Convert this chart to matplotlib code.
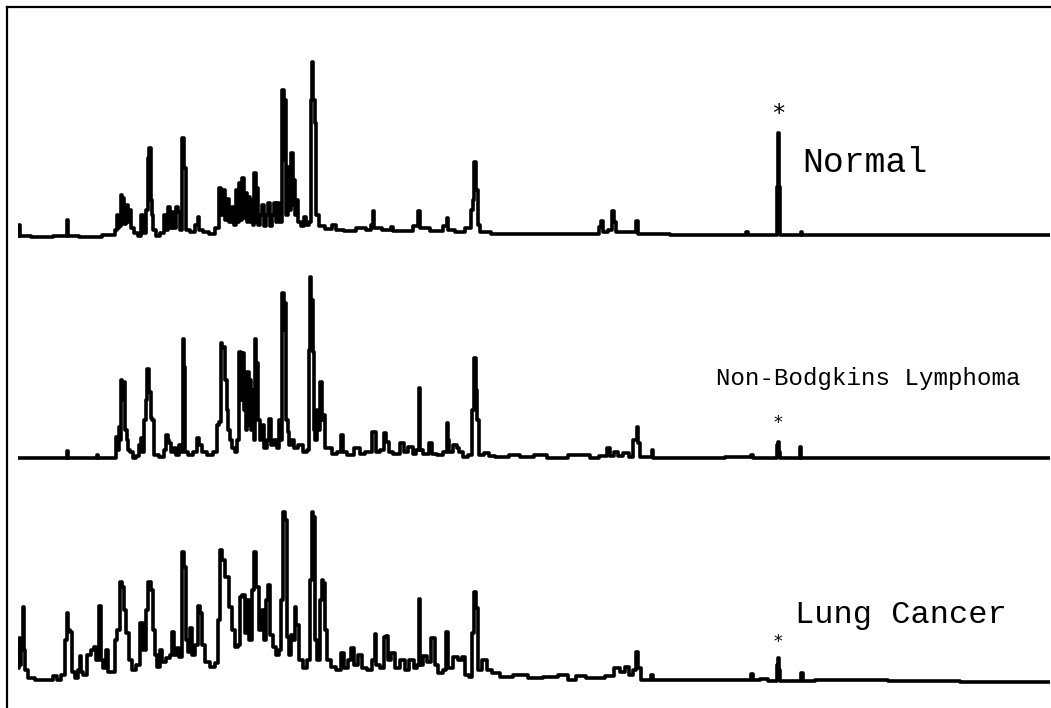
import matplotlib
matplotlib.use("Agg")
import matplotlib.pyplot as plt

# traces: (scan, intensity) vertices of each chromatogram
normal_trace = [
    (0, -1), (1, 10), (3, -1), (22, -2), (48, -1), (49, 15), (50, -1), (72, -2), (96, 0),
    (98, 5), (99, 20), (100, 7), (102, 9), (103, 40), (104, 13), (105, 37), (106, 11),
    (109, 30), (110, 13), (112, 25), (114, 7), (118, 2), (122, -1), (124, 20), (126, 2),
    (129, 25), (130, 77), (132, 87), (133, 35), (134, 20), (136, 5), (140, -1), (144, 2),
    (147, 20), (149, 5), (151, 28), (153, 7), (154, 23), (156, 7), (159, 28), (161, 23),
    (163, 5), (165, 97), (167, 67), (169, 5), (174, 3), (179, 10), (180, 18), (182, 5),
    (187, 3), (194, 1), (199, 7), (202, 47), (204, 20), (206, 45), (208, 15), (210, 36),
    (212, 13), (215, 28), (217, 10), (219, 45), (220, 13), (222, 52), (223, 15), (225, 57),
    (226, 17), (228, 42), (229, 13), (231, 38), (232, 13), (234, 35), (235, 10), (237, 62),
    (238, 13), (239, 47), (241, 10), (243, 20), (245, 30), (247, 9), (249, 20), (251, 32),
    (253, 9), (255, 20), (257, 32), (258, 13), (260, 32), (262, 13), (265, 145), (266, 75),
    (267, 135), (269, 20), (271, 68), (272, 25), (274, 82), (275, 30), (276, 55), (278, 20),
    (279, 35), (281, 13), (285, 9), (287, 18), (289, 10), (292, 13), (293, 135), (294, 173),
    (296, 135), (297, 112), (299, 20), (302, 9), (312, 6), (315, 10), (320, 5), (332, 4),
    (344, 7), (352, 5), (354, 10), (355, 24), (356, 7), (372, 5), (374, 8), (376, 4),
    (392, 4), (398, 9), (401, 24), (402, 7), (422, 4), (428, 9), (429, 17), (431, 5),
    (442, 3), (452, 7), (454, 25), (455, 35), (457, 73), (459, 45), (460, 10), (464, 3),
    (482, 1), (532, 1), (580, 1), (582, 8), (584, 14), (586, 3), (593, 5), (595, 24),
    (597, 13), (599, 3), (617, 3), (619, 14), (621, 1), (682, 0), (727, 0), (729, 3),
    (731, 0), (758, 0), (759, 48), (760, 102), (761, 48), (763, 0), (782, 0), (783, 3),
    (784, 0), (1032, 0),
]

nhl_trace = [
    (0, 0), (48, 0), (49, 7), (50, 0), (78, 0), (79, 3), (80, 0), (97, 0), (99, 21),
    (100, 8), (101, 31), (102, 18), (103, 78), (105, 58), (106, 76), (108, 28), (109, 18),
    (111, 8), (113, 6), (116, 0), (120, 2), (122, 13), (123, 20), (125, 6), (127, 38),
    (128, 58), (130, 89), (132, 66), (133, 40), (135, 38), (137, 3), (144, 1), (147, 8),
    (149, 23), (150, 18), (152, 15), (154, 6), (157, 10), (159, 3), (162, 13), (164, 6),
    (165, 119), (166, 91), (168, 6), (172, 3), (177, 6), (180, 20), (182, 13), (185, 6),
    (192, 3), (198, 6), (200, 33), (202, 36), (203, 115), (205, 110), (206, 111), (208, 78),
    (209, 48), (211, 28), (213, 18), (215, 10), (218, 6), (220, 18), (222, 106), (223, 58),
    (225, 105), (226, 48), (227, 68), (228, 28), (230, 86), (231, 33), (232, 78), (233, 28),
    (235, 68), (236, 18), (237, 119), (238, 58), (239, 95), (241, 38), (242, 18), (244, 26),
    (245, 33), (247, 10), (250, 18), (252, 39), (254, 13), (258, 18), (260, 10), (262, 38),
    (263, 18), (265, 165), (266, 128), (267, 155), (269, 38), (270, 26), (272, 13), (274, 18),
    (277, 10), (282, 13), (287, 6), (290, 8), (291, 108), (292, 181), (294, 158), (295, 106),
    (296, 28), (298, 18), (300, 48), (301, 28), (303, 76), (304, 38), (306, 43), (308, 10),
    (312, 10), (316, 4), (322, 6), (324, 23), (326, 6), (332, 3), (340, 10), (344, 4),
    (350, 6), (357, 26), (359, 6), (364, 8), (367, 25), (369, 16), (372, 6), (378, 4),
    (385, 15), (387, 6), (393, 11), (396, 4), (400, 8), (401, 70), (402, 8), (408, 4),
    (413, 15), (415, 4), (422, 3), (428, 6), (429, 35), (430, 18), (432, 6), (438, 13),
    (440, 10), (442, 6), (447, 1), (452, 3), (455, 48), (457, 100), (458, 68), (459, 38),
    (462, 3), (469, 5), (472, 2), (482, 1), (500, 3), (504, 1), (527, 3), (530, 0),
    (570, 3), (574, 0), (587, 2), (591, 10), (593, 2), (599, 6), (601, 2), (609, 5),
    (612, 1), (618, 18), (619, 31), (621, 15), (623, 1), (633, 1), (634, 8), (636, 0),
    (682, 0), (732, 1), (734, 3), (736, 0), (758, 0), (759, 13), (760, 16), (761, 6),
    (763, 0), (781, 0), (782, 11), (784, 0), (1032, 0),
]

lung_trace = [
    (0, 14), (1, 44), (2, 17), (4, 42), (5, 75), (6, 32), (8, 12), (12, 4), (22, 2),
    (32, 2), (37, 6), (40, 2), (45, 7), (48, 42), (49, 69), (51, 52), (53, 50), (55, 10),
    (58, 4), (61, 12), (62, 26), (63, 10), (67, 7), (71, 27), (74, 32), (77, 35), (79, 22),
    (82, 76), (83, 22), (86, 14), (89, 32), (90, 10), (95, 10), (98, 42), (100, 52),
    (103, 100), (105, 95), (107, 72), (109, 49), (112, 22), (115, 12), (120, 17), (124, 59),
    (126, 32), (129, 72), (131, 100), (134, 92), (136, 52), (138, 27), (140, 15), (143, 32),
    (145, 20), (150, 24), (153, 27), (155, 50), (157, 27), (160, 34), (162, 25), (165, 130),
    (167, 115), (169, 42), (171, 30), (173, 54), (175, 27), (179, 37), (181, 76), (183, 69),
    (185, 37), (189, 20), (194, 15), (199, 19), (201, 62), (203, 132), (205, 122), (209, 105),
    (212, 75), (215, 52), (219, 35), (221, 37), (223, 85), (225, 87), (228, 49), (230, 82),
    (232, 42), (235, 92), (237, 130), (239, 95), (242, 52), (245, 72), (247, 42), (249, 82),
    (251, 97), (253, 47), (256, 35), (259, 27), (262, 32), (264, 82), (265, 170), (268, 162),
    (270, 45), (272, 27), (274, 47), (276, 42), (277, 75), (279, 57), (282, 22), (287, 14),
    (291, 22), (293, 102), (294, 170), (296, 165), (298, 42), (300, 22), (303, 82), (304, 102),
    (306, 99), (308, 52), (310, 22), (315, 15), (320, 12), (325, 29), (327, 14), (332, 22),
    (334, 34), (337, 17), (342, 27), (345, 14), (352, 12), (356, 22), (357, 48), (359, 17),
    (364, 14), (367, 45), (369, 46), (371, 22), (375, 29), (378, 14), (385, 22), (388, 12),
    (394, 22), (397, 14), (400, 17), (401, 83), (402, 17), (407, 26), (410, 20), (415, 44),
    (418, 17), (422, 9), (427, 12), (429, 50), (431, 14), (438, 25), (442, 22), (445, 25),
    (448, 7), (453, 5), (455, 49), (457, 90), (459, 74), (461, 12), (467, 22), (470, 12),
    (477, 9), (487, 5), (502, 7), (517, 4), (532, 5), (547, 7), (552, 2), (564, 6), (572, 4),
    (582, 4), (592, 6), (599, 14), (604, 10), (609, 15), (612, 7), (617, 12), (619, 30),
    (621, 14), (624, 2), (632, 2), (634, 7), (636, 2), (682, 2), (732, 2), (734, 8), (736, 2),
    (747, 3), (752, 1), (758, 1), (759, 17), (760, 24), (761, 12), (763, 1), (782, 1),
    (784, 9), (785, 1), (809, 2), (837, 2), (902, 1), (982, 0), (1032, 0),
]

labels = ["Normal", "Non-Bodgkins Lymphoma", "Lung Cancer"]
label_pos = [(784, 72), (698, 80), (777, 67)]      # (scan, intensity) of label left edge
label_size = [25, 17.4, 23]
marker_pos = [(760, 121), (760, 35), (760, 40)]    # '*' marks the internal standard
marker_size = [17, 13, 13]

W, H = 1051, 708
fig = plt.figure(figsize=(W / 100, H / 100), dpi=100)

# frame (left and top only)
frame = fig.add_axes([7 / W, 0, 1 - 7 / W, 1 - 7 / H])
frame.set_xticks([])
frame.set_yticks([])
frame.spines["right"].set_visible(False)
frame.spines["bottom"].set_visible(False)
frame.spines["left"].set_linewidth(1.6)
frame.spines["top"].set_linewidth(1.6)

panel_top = [45, 268, 492]   # pixel row of each panel's top edge
for i, trace in enumerate([normal_trace, nhl_trace, lung_trace]):
    ax = fig.add_axes([18 / W, 1 - (panel_top[i] + 200) / H, 1032 / W, 200 / H])
    x = [p[0] for p in trace]
    y = [p[1] for p in trace]
    ax.plot(x, y, color="black", lw=2.6, drawstyle="steps-mid")
    ax.set_xlim(0, 1032)
    ax.set_ylim(-10, 190)
    ax.axis("off")
    ax.text(label_pos[i][0], label_pos[i][1], labels[i], family="Liberation Mono",
            fontsize=label_size[i], ha="left", va="center", color="black")
    ax.text(marker_pos[i][0], marker_pos[i][1], "*", fontsize=marker_size[i],
            ha="center", va="center", color="black", family="DejaVu Sans Mono")

fig.savefig("out.png", dpi=100)
